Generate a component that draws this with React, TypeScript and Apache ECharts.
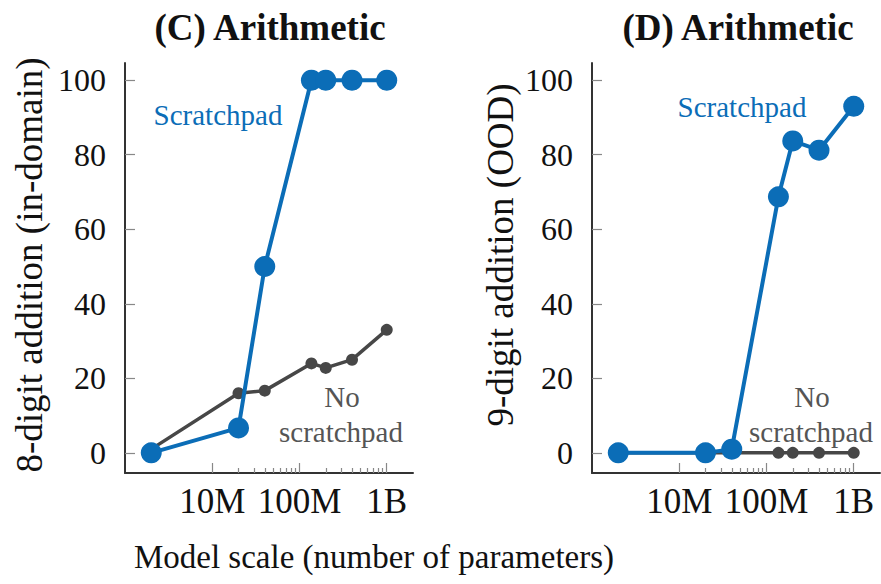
import React, { useEffect, useRef } from "react";
import * as echarts from "echarts";

const modelSizes = [2e6, 2e7, 4e7, 1.37e8, 2e8, 4e8, 1e9];
const inDomainScratch = [0, 6.7, 50, 100, 100, 100, 100];
const inDomainNoScratch = [1, 16, 16.7, 24, 22.8, 25, 33];
const oodScratch = [0, 0, 1, 68.7, 83.7, 81.2, 93];
const oodNoScratch = [0, 0, 0, 0, 0, 0, 0];
const majorTicks = [1e7, 1e8, 1e9];
const majorTickLabels: Record<string, string> = { "10000000": "10M", "100000000": "100M", "1000000000": "1B" };
const minorTicks = [2e7, 3e7, 4e7, 5e7, 6e7, 7e7, 8e7, 9e7, 2e8, 3e8, 4e8, 5e8, 6e8, 7e8, 8e8, 9e8];
const yTicks = [0, 20, 40, 60, 80, 100];
const panelTitles = ["(C) Arithmetic", "(D) Arithmetic"];
const yNames = ["8-digit addition (in-domain)", "9-digit addition (OOD)"];
const xName = "Model scale (number of parameters)";

const BLUE = "#0b6db7";
const GRAY = "#474747";
const FONT = "'Liberation Serif', 'Times New Roman', serif";

export default function App() {
  const ref = useRef<HTMLDivElement>(null);
  useEffect(() => {
    if (!ref.current) return;
    const chart = echarts.init(ref.current, null, { renderer: "svg" });
    const grids = [
      { left: 125, top: 63, width: 288, height: 410 },
      { left: 592, top: 63, width: 288, height: 410 },
    ];
    const xAxes: any[] = [];
    const yAxes: any[] = [];
    [0, 1].forEach((g) => {
      xAxes.push({
        type: "log",
        gridIndex: g,
        position: "bottom",
        min: 1e6,
        max: 2e9,
        axisLine: { show: true, onZero: false, lineStyle: { color: "#333", width: 2 } },
        axisTick: { show: true, inside: true, length: 10, customValues: majorTicks, lineStyle: { color: "#888", width: 1.2 } },
        axisLabel: {
          show: true,
          customValues: majorTicks,
          margin: 11,
          fontFamily: FONT,
          fontSize: 35,
          color: "#111",
          formatter: (v: number) => majorTickLabels[String(Math.round(v))] || "",
        },
        splitLine: { show: false },
      });
      xAxes.push({
        type: "log",
        gridIndex: g,
        position: "bottom",
        min: 1e6,
        max: 2e9,
        axisLine: { show: false, onZero: false },
        axisTick: { show: true, inside: true, length: 5, customValues: minorTicks, lineStyle: { color: "#888", width: 1.2 } },
        axisLabel: { show: false },
        splitLine: { show: false },
      });
      yAxes.push({
        type: "value",
        gridIndex: g,
        min: -5.4,
        max: 104.6,
        axisLine: { show: true, onZero: false, lineStyle: { color: "#333", width: 2 } },
        axisTick: { show: true, inside: true, length: 10, customValues: yTicks, lineStyle: { color: "#888", width: 1.2 } },
        axisLabel: { show: true, customValues: yTicks, margin: 19, fontFamily: FONT, fontSize: 32, color: "#111" },
        splitLine: { show: false },
      });
    });
    const mk = (xs: number[], ys: number[]) => xs.map((x, i) => [x, ys[i]]);
    const series: any[] = [
      { data: mk(modelSizes, inDomainNoScratch), xAxisIndex: 0, yAxisIndex: 0, color: GRAY, size: 12, w: 3.5, z: 2 },
      { data: mk(modelSizes, inDomainScratch), xAxisIndex: 0, yAxisIndex: 0, color: BLUE, size: 21, w: 4, z: 3 },
      { data: mk(modelSizes, oodNoScratch), xAxisIndex: 2, yAxisIndex: 1, color: GRAY, size: 12, w: 3.5, z: 2 },
      { data: mk(modelSizes, oodScratch), xAxisIndex: 2, yAxisIndex: 1, color: BLUE, size: 21, w: 4, z: 3 },
    ].map((s) => ({
      type: "line",
      data: s.data,
      xAxisIndex: s.xAxisIndex,
      yAxisIndex: s.yAxisIndex,
      symbol: "circle",
      symbolSize: s.size,
      showSymbol: true,
      z: s.z,
      lineStyle: { color: s.color, width: s.w },
      itemStyle: { color: s.color },
      emphasis: { disabled: true },
    }));
    const txt = (text: string, x: number, y: number, size: number, color: string, bold = false, rotation = 0) => ({
      type: "text",
      x,
      y,
      rotation,
      style: {
        text,
        fill: color,
        font: `${bold ? "bold " : ""}${size}px ${FONT}`,
        textAlign: "center",
        textVerticalAlign: "middle",
      },
    });
    chart.setOption({
      animation: false,
      backgroundColor: "#fff",
      grid: grids,
      xAxis: xAxes,
      yAxis: yAxes,
      series,
      graphic: [
        txt(panelTitles[0], 270, 27, 37, "#111", true),
        txt(panelTitles[1], 738, 27, 37, "#111", true),
        txt(yNames[0], 29, 265, 37, "#111", false, Math.PI / 2),
        txt(yNames[1], 500, 255, 37, "#111", false, Math.PI / 2),
        txt("Scratchpad", 218, 115, 29, BLUE),
        txt("Scratchpad", 742, 107, 29, BLUE),
        txt("No", 342, 397, 29, "#555"),
        txt("scratchpad", 341, 432, 29, "#555"),
        txt("No", 812, 397, 29, "#555"),
        txt("scratchpad", 811, 432, 29, "#555"),
        txt(xName, 374, 557, 33, "#111"),
      ],
    });
    return () => chart.dispose();
  }, []);
  return <div ref={ref} style={{ width: 881, height: 584, position: "absolute", left: 0, top: 0 }} />;
}
